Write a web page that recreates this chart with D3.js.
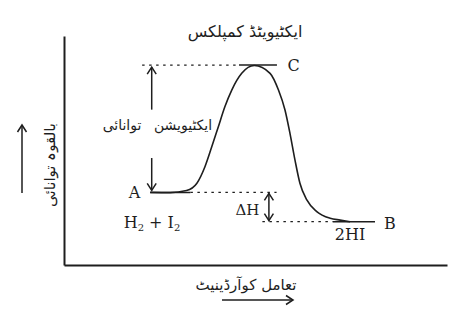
<!DOCTYPE html>
<html>
<head>
<meta charset="utf-8">
<script src="https://cdn.jsdelivr.net/npm/d3@7"></script>
<style>
  html, body { margin: 0; padding: 0; background: #fff; }
  svg { display: block; }
</style>
</head>
<body>
<svg id="chart" width="470" height="310"></svg>
<script>
// ---- data ----
const reactionCoord = [22.5, 27.7, 32.0, 34.7, 36.8, 38.6, 40.3, 42.0, 43.8, 46.4, 49.7, 53.8, 56.0, 57.7, 59.0, 60.3, 61.6, 63.4, 66.0, 69.5, 72.1, 74.7];
const energy        = [31.7, 31.6, 32.5, 35.7, 42.9, 51.7, 60.4, 69.1, 76.4, 83.7, 87.1, 83.7, 76.4, 67.7, 57.5, 45.9, 35.7, 28.4, 23.3, 20.4, 19.6, 18.9];
const levelNames  = ["A", "C", "B"];
const levelEnergy = [31.7, 87.3, 18.9];
const speciesLabels = ["H₂ + I₂", "2HI"];
const titleText = "ایکٹیویٹڈ کمپلکس";
const xAxisLabel = "تعامل کوآرڈینیٹ";
const yAxisLabel = "بالقوہ توانائی";
const activationLabel = ["توانائی", "ایکٹیویشن"];
const deltaHLabel = "ΔH";

// ---- setup ----
const svg = d3.select("#chart");
const ink = "#1e1e1e";
const x = d3.scaleLinear().domain([0, 100]).range([64, 447]);
const y = d3.scaleLinear().domain([0, 100]).range([265, 36]);

const [eA, eC, eB] = levelEnergy;

// axes (no ticks)
svg.append("g").attr("transform", `translate(0,${y(0)})`)
  .call(d3.axisBottom(x).tickValues([]).tickSizeOuter(0))
  .call(g => g.select(".domain").attr("stroke", ink).attr("stroke-width", 2));
svg.append("g").attr("transform", `translate(${x(0)},0)`)
  .call(d3.axisLeft(y).tickValues([]).tickSizeOuter(0))
  .call(g => g.select(".domain").attr("stroke", ink).attr("stroke-width", 2));

// helpers
function hline(x0, x1, e, dashed) {
  svg.append("line")
    .attr("x1", x(x0)).attr("x2", x(x1))
    .attr("y1", y(e)).attr("y2", y(e))
    .attr("stroke", ink)
    .attr("stroke-width", dashed ? 1.3 : 1.5)
    .attr("stroke-dasharray", dashed ? "2.5,4.5" : null);
}
function arrowHead(px, py, dir) {
  const s = 4.5, l = 7;
  let d;
  if (dir === "up") d = `M${px - s},${py + l}L${px},${py}L${px + s},${py + l}`;
  else if (dir === "down") d = `M${px - s},${py - l}L${px},${py}L${px + s},${py - l}`;
  else d = `M${px - l},${py - s}L${px},${py}L${px - l},${py + s}`;
  svg.append("path").attr("d", d).attr("fill", "none")
    .attr("stroke", ink).attr("stroke-width", 1.5);
}
function vline(xv, y0, y1) {
  svg.append("line").attr("x1", xv).attr("x2", xv).attr("y1", y0).attr("y2", y1)
    .attr("stroke", ink).attr("stroke-width", 1.5);
}

// level lines
hline(22.5, 33.0, eA, false);
hline(33.0, 55.5, eA, true);
hline(20.4, 45.7, eC, true);
hline(45.7, 55.6, eC, false);
hline(51.8, 70.2, eB, true);
hline(70.2, 81.2, eB, false);

// energy curve
const pts = reactionCoord.map((r, i) => [r, energy[i]]);
svg.append("path")
  .attr("d", d3.line().x(d => x(d[0])).y(d => y(d[1])).curve(d3.curveMonotoneX)(pts))
  .attr("fill", "none").attr("stroke", ink).attr("stroke-width", 1.6);

// activation energy arrow (with gap)
const ax = x(22.9);
const gapTop = y(eA + (eC - eA) * 0.65), gapBot = y(eA + (eC - eA) * 0.27);
vline(ax, y(eC) + 2, gapTop); arrowHead(ax, y(eC) + 2, "up");
vline(ax, gapBot, y(eA) - 2); arrowHead(ax, y(eA) - 2, "down");

// delta H arrow
const dx = x(53.5);
vline(dx, y(eA) + 1, y(eB) - 1);
arrowHead(dx, y(eA) + 1, "up");
arrowHead(dx, y(eB) - 1, "down");

// y-axis arrow
const yaX = 22;
vline(yaX, 193, 125); arrowHead(yaX, 125, "up");
// x-axis arrow
svg.append("line").attr("x1", 222).attr("x2", 293).attr("y1", 300).attr("y2", 300)
  .attr("stroke", ink).attr("stroke-width", 1.5);
arrowHead(293, 300, "right");

// Latin labels
const serif = "'DejaVu Serif', serif";
function txt(s, px, py, size, anchor, fam) {
  return svg.append("text").attr("x", px).attr("y", py)
    .attr("font-family", fam || serif).attr("font-size", size)
    .attr("text-anchor", anchor || "middle").attr("fill", ink).text(s);
}
txt(levelNames[0], 134.5, 198, 16);
txt(levelNames[1], 293.5, 71, 16);
txt(levelNames[2], 390, 229, 16);
txt(deltaHLabel, 247.5, 215, 15);
txt(speciesLabels[1], 350, 240, 16);
// H2 + I2 with subscripts
const hi = svg.append("text").attr("x", 152).attr("y", 228)
  .attr("font-family", serif).attr("font-size", 16).attr("text-anchor", "middle").attr("fill", ink);
hi.append("tspan").text("H");
hi.append("tspan").attr("font-size", 10).attr("dy", 3).text("2");
hi.append("tspan").attr("dy", -3).text(" + I");
hi.append("tspan").attr("font-size", 10).attr("dy", 3).text("2");

// Urdu labels
const urdu = "'DejaVu Sans', 'Noto Sans', sans-serif";
txt(titleText, 245, 37, 16, "middle", urdu).attr("direction", "rtl");
txt(activationLabel[0], 122, 130, 14, "middle", urdu).attr("direction", "rtl");
txt(activationLabel[1], 183, 130, 14, "middle", urdu).attr("direction", "rtl");
txt(xAxisLabel, 246, 290, 15, "middle", urdu).attr("direction", "rtl");
svg.append("text")
  .attr("transform", `translate(55,165) rotate(-90)`)
  .attr("font-family", urdu).attr("font-size", 15).attr("text-anchor", "middle")
  .attr("direction", "rtl").attr("fill", ink).text(yAxisLabel);
</script>
</body>
</html>
